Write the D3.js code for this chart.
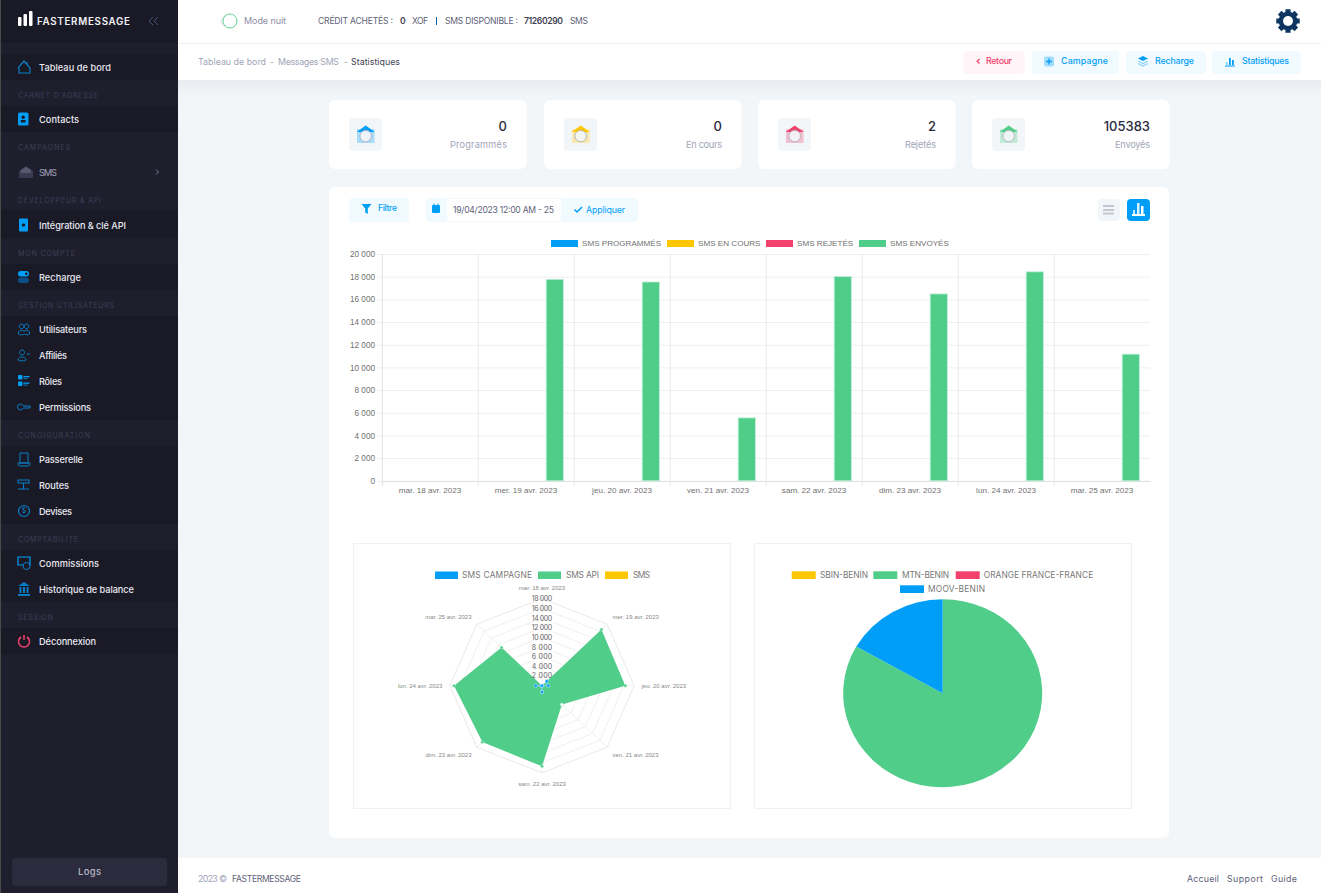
<!DOCTYPE html>
<html lang="fr"><head><meta charset="utf-8"><title>Statistiques</title>
<script src="https://cdn.jsdelivr.net/npm/d3@7/dist/d3.min.js"></script>
<style>html,body{margin:0;padding:0;background:#f3f6f9;overflow:hidden}svg{display:block}text{white-space:pre}</style>
</head><body><svg id="c" width="1321" height="893"></svg>
<script>
// ---- data ----
const days = ["mar. 18 avr. 2023","mer. 19 avr. 2023","jeu. 20 avr. 2023","ven. 21 avr. 2023","sam. 22 avr. 2023","dim. 23 avr. 2023","lun. 24 avr. 2023","mar. 25 avr. 2023"];
const barSeriesNames = ["SMS PROGRAMMÉS","SMS EN COURS","SMS REJETÉS","SMS ENVOYÉS"];
const smsProgrammes = [0,0,0,0,0,0,0,0];
const smsEnCours    = [0,0,0,0,0,0,0,0];
const smsRejetes    = [0,0,2,0,0,0,0,0];
const smsEnvoyes    = [0,17770,17533,5550,18020,16480,18430,11170];
const barTicks = [0,2000,4000,6000,8000,10000,12000,14000,16000,18000,20000];
const radarSeriesNames = ["SMS CAMPAGNE","SMS API","SMS"];
const radarCampagne = [0,1320,1230,0,1320,0,1230,0];
const radarApi      = [0,16450,16300,5500,16700,16500,17220,11200];
const radarSms      = [0,0,0,0,0,0,0,0];
const radarTicks = [2000,4000,6000,8000,10000,12000,14000,16000,18000];
const pieNames  = ["SBIN-BENIN","MTN-BENIN","ORANGE FRANCE-FRANCE","MOOV-BENIN"];
const pieValues = [0,87733,2,17648];
const statLabels = ["Programmés","En cours","Rejetés","Envoyés"];
const statValues = ["0","0","2","105383"];

// ---- helpers ----
const BLUE="#009ef7",GREEN="#50cd89",YELLOW="#ffc700",RED="#f1416c";
const UI="Inter,'Open Sans',sans-serif", CH="'Liberation Sans',Arial,sans-serif";
const svg=d3.select("#c");
const loc=d3.formatLocale({decimal:",",thousands:" ",grouping:[3],currency:["",""]});
const fmt=loc.format(",d");
function R(p,x,y,w,h,fill,rx,stroke){const r=p.append("rect").attr("x",x).attr("y",y).attr("width",w).attr("height",h).attr("fill",fill);if(rx)r.attr("rx",rx);if(stroke)r.attr("stroke",stroke);return r;}
function T(p,x,y,s,o={}){const t=p.append("text").attr("x",x).attr("y",y).attr("dy",".35em").text(s)
 .attr("font-family",o.f||UI).attr("font-size",o.s||9).attr("font-weight",o.b||400).attr("fill",o.c||"#5e6278").attr("text-anchor",o.a||"start");
 if(o.w)t.attr("textLength",o.w).attr("lengthAdjust","spacing");return t;}
function P(p,d,fill,stroke,sw){return p.append("path").attr("d",d).attr("fill",fill||"none").attr("stroke",stroke||"none").attr("stroke-width",sw||1);}
function G(p,x,y){return p.append("g").attr("transform",`translate(${x},${y})`);}

// ---- page background ----
R(svg,0,0,1321,893,"#f3f6f9");
const defs=svg.append("defs");
const gr=defs.append("linearGradient").attr("id","sh").attr("x1",0).attr("x2",0).attr("y1",0).attr("y2",1);
gr.append("stop").attr("offset",0).attr("stop-color","#e9ebf0");gr.append("stop").attr("offset",1).attr("stop-color","#f3f6f9");
R(svg,178,80,1143,16,"url(#sh)");
R(svg,178,0,1143,80,"#fff");
R(svg,178,43,1143,1,"#eff2f5");
R(svg,178,858,1143,35,"#fff");

// ---- sidebar ----
const side=svg.append("g");
R(side,0,0,178,893,"#1e1e2d");
[[0,43],[54,26],[106,26],[210,28],[264,26],[316,104],[446,78],[550,52],[628,26]].forEach(b=>R(side,0,b[0],178,b[1],"#1a1a27"));
R(side,0,0,1,893,"#4a4a4a");
[["CARNET D'ADRESSE",95.5,80],["CAMPAGNES",147.5,52],["DÉVELOPPEUR & API",200.5,83],["MON COMPTE",254,57],["GESTION UTILISATEURS",305.5,96],["CONGIGURATION",436,72],["COMPTABILITÉ",539.5,60],["SESSION",617.5,35]]
 .forEach(g=>T(side,18,g[1],g[0],{s:7,c:"#3f3f58",w:g[2]}));
[["Tableau de bord",67,72],["Contacts",119,40],["SMS",172,18,"#8e8ea3"],["Intégration & clé API",225,87],["Recharge",277,42],["Utilisateurs",329,48],["Affiliés",355,28],["Rôles",381,23],["Permissions",407,52],["Passerelle",459,44],["Routes",485,30],["Devises",511,33],["Commissions",563,60],["Historique de balance",589,95],["Déconnexion",641,57]]
 .forEach(i=>T(side,39,i[1]+.4,i[0],{s:9.2,b:500,c:i[3]||"#e9e9f0",w:i[2]}));
// logo
const lg=G(side,18,11);
R(lg,0,6,3.5,9,"#fff",1);R(lg,5.5,3,3.5,12,"#fff",1);R(lg,11,0,3.5,15,"#fff",1);
T(side,37,21.5,"FASTERMESSAGE",{s:9.8,b:600,c:"#f1f1f5",w:93});
P(side,"M153 17l-4 4 4 4M158 17l-4 4 4 4","none","#46527a",1);
P(side,"M156 169.5l2.5 2.5-2.5 2.5","none","#7a7a90",1);
// icons
const ic=(y,f)=>f(G(side,18,y));
ic(67,g=>P(g,"M0 1l6-7 6 7v5H1v-5M9-3l0-2","none","#0a7cc4",1.2));
ic(119,g=>{R(g,0,-6.5,10.5,13,BLUE,1.5);R(g,3.5,-3.5,3.4,3.4,"#1a1a27",1.7);R(g,2.7,1,5,2.5,"#1a1a27",1);});
ic(172,g=>{P(g,"M1 -1l7 -5 7 5v7H1z","#3a3a52");P(g,"M3 1h10v-3l-5-3-5 3z","#57576f");});
ic(225,g=>{R(g,1,-6.5,9,13,BLUE,1);R(g,3.8,-1.5,3.4,3,"#1a1a27",1.5);});
ic(277,g=>{R(g,0,-6,11,5.5,BLUE,2.7);R(g,0,.5,11,5.5,"#0b4f82",2.7);R(g,7,-4.5,2.5,2.5,"#1a1a27",1.2);});
ic(329,g=>{P(g,"M3.5-5a2.3 2.3 0 1 0 .1 0zM8.5-5a2.3 2.3 0 1 0 .1 0zM.5 5a3 3 0 0 1 5-3h1a3 3 0 0 1 5 3c0 1-5 1-5 0c0 1-6 1-6 0","none","#0a7cc4",1);});
ic(355,g=>{P(g,"M4-5a2.5 2.5 0 1 0 .1 0zM0 5c0-4 8-4 8 0 0 1-8 1-8 0M9-1h3","none","#0a7cc4",1);});
ic(381,g=>{R(g,0,-6,4.5,4.5,BLUE,1);R(g,0,.5,4.5,4.5,BLUE,1);R(g,5.5,-5,6,1.3,BLUE);R(g,5.5,-2.8,4,1,"#0a7cc4");R(g,5.5,1.5,6,1.3,BLUE);R(g,5.5,3.6,4,1,"#0a7cc4");});
ic(407,g=>P(g,"M2.5-3a3 3 0 1 0 .1 6 3 3 0 0 0 2.6-2H12v-2H5.2a3 3 0 0 0-2.7-2z","none","#0a7cc4",1));
ic(459,g=>P(g,"M2-6h8v10h-8zM0 4h12v1a2 2 0 0 1-2 2H2a2 2 0 0 1-2-2z","none","#0a7cc4",1));
ic(485,g=>P(g,"M0-5h11v3H0zM5.5-2v6M0 4h11M4 4h3","none","#0a7cc4",1.1));
ic(511,g=>{g.append("circle").attr("cx",6).attr("cy",0).attr("r",5.5).attr("fill","none").attr("stroke","#0a7cc4").attr("stroke-width",1.2);T(g,6,0,"$",{s:7,c:"#0a7cc4",a:"middle"});});
ic(563,g=>{P(g,"M0-6h12v8H0z","none",BLUE,1.2);g.append("circle").attr("cx",8.5).attr("cy",3).attr("r",3.5).attr("fill","#1a1a27").attr("stroke","#0a7cc4");});
ic(589,g=>{P(g,"M0-3l6-4 6 4zM0 5h12v2H0zM1.5-2h2v6h-2zM5-2h2v6H5zM8.5-2h2v6h-2z","#0a7cc4");});
ic(641,g=>P(g,"M3-4a5.5 5.5 0 1 0 6 0M6-6v5","none",RED,1.5));
R(side,12,858,155,28,"#2b2b3d",4);
T(side,89.5,872,"Logs",{s:9.5,b:500,c:"#b5b5c3",a:"middle",w:23});

// ---- top header ----
svg.append("ellipse").attr("cx",227).attr("cy",21).attr("rx",7).attr("ry",6.5).attr("fill","#eff2f5");
svg.append("circle").attr("cx",230).attr("cy",21).attr("r",7).attr("fill","#fff").attr("stroke",GREEN).attr("stroke-width",.9);
T(svg,244,21,"Mode nuit",{s:9,c:"#8d8da3",w:42});
[["CRÉDIT ACHETÉS :",318,75],["0",400,4.5,1],["XOF",412,16],["SMS DISPONIBLE :",445,73],["71260290",524,39,1],["SMS",570,18]]
 .forEach(t=>T(svg,t[1],21,t[0],{s:8.6,b:t[3]?600:400,w:t[2],c:t[3]?"#3f4254":"#5e6278"}));
R(svg,436,17,1,8,"#0a5ea8");
// gear
(function(){const n=8,ro=12,ri=9.4,pts=[];for(let i=0;i<n;i++){const a=i*2*Math.PI/n;const s=.22;
 [[a-s,ro],[a+s,ro],[a+Math.PI/n-.12,ri],[a+Math.PI/n+.12,ri]].forEach(q=>pts.push([1288+q[1]*Math.cos(q[0]),21+q[1]*Math.sin(q[0])]));}
 P(svg,"M"+pts.map(p=>p.join(",")).join("L")+"Z","#0c3560");
 svg.append("circle").attr("cx",1288).attr("cy",21).attr("r",5).attr("fill","#fff");})();
// breadcrumb
[["Tableau de bord",198,68,"#a1a5b7"],["-",270,4,"#a1a5b7"],["Messages SMS",278,61,"#a1a5b7"],["-",344,3,"#a1a5b7"],["Statistiques",351,49,"#3f4254"]]
 .forEach(t=>T(svg,t[1],62,t[0],{s:8.8,c:t[3],w:t[2]}));
// action buttons
R(svg,963,51,62,23,"#fff5f8",4);
P(svg,"M979.5 59l-2.3 2.3 2.3 2.3","none",RED,1.3);
T(svg,986,61,"Retour",{s:8.8,b:500,c:RED,w:26});
R(svg,1032,51,87,23,"#f1faff",4);
R(svg,1044,56.5,10,10,"#a3dcfc",2);P(svg,"M1049 58.5v6M1046 61.5h6","none",BLUE,1.3);
T(svg,1061,61,"Campagne",{s:8.8,b:500,c:BLUE,w:47});
R(svg,1126,51,80,23,"#f1faff",4);
P(svg,"M1143 56l5 2.5-5 2.5-5-2.5z",BLUE);P(svg,"M1138 61l5 2.5 5-2.5M1138 63.5l5 2.5 5-2.5","none","#8fd5fb",1.2);
T(svg,1155,61,"Recharge",{s:8.8,b:500,c:BLUE,w:39});
R(svg,1212,51,89,23,"#f1faff",4);
R(svg,1225,65.5,10,1,BLUE);R(svg,1226,62,1.8,3,"#8fd5fb");R(svg,1229,58,1.8,7,BLUE);R(svg,1232,60,1.8,5,BLUE);
T(svg,1242,61,"Statistiques",{s:8.8,b:500,c:BLUE,w:47});

// ---- stat cards ----
const cardColors=[BLUE,YELLOW,RED,GREEN];
const cardX=[329,544,758,972], cardLabelW=[57,36,31,35];
statLabels.forEach((l,i)=>{
 const x=cardX[i];
 R(svg,x,100,197.5,69,"#fff",6);
 const g=G(svg,x+20,118);
 R(g,0,0,33,33,"#f3f6f9",4);
 const c=cardColors[i];
 R(g,8,11,17.5,14,c,0).attr("opacity",.3);
 P(g,"M16.7 7.5l9 6.5h-18z",c);
 g.append("circle").attr("cx",16.7).attr("cy",18).attr("r",5.8).attr("fill","#f3f6f9").attr("fill-opacity",.9).attr("stroke","#a9a9b5").attr("stroke-width",.8);
 T(svg,x+178,126,statValues[i],{s:13,b:500,c:"#2a2c40",a:"end"});
 T(svg,x+178,145,l,{s:9.2,c:"#a1a5b7",a:"end",w:cardLabelW[i]});
});

// ---- main card ----
R(svg,329,187,840,651,"#fff",6);
R(svg,349,198,60,24,"#f1faff",4);
P(svg,"M361.5 204h10l-3.7 4.5v5.5l-2.6-1.5v-4z",BLUE);
T(svg,378,208,"Filtre",{s:8.6,b:500,c:BLUE,w:19});
R(svg,426,198,212,24,"#f1faff",4);R(svg,447,199,114,22,"#fff");
R(svg,432,205,8,8,BLUE,1);R(svg,433.5,203.5,1,2,BLUE);R(svg,437.5,203.5,1,2,BLUE);
T(svg,453,209.5,"19/04/2023 12:00 AM - 25",{s:8.6,c:"#5e6278",w:101});
P(svg,"M574.5 209.5l2.5 2.5 5-5","none",BLUE,1.5);
T(svg,586,209.5,"Appliquer",{s:8.8,c:BLUE,w:39});
R(svg,1098,199,22,22,"#f3f6f9",4);
[205,209,212.5].forEach(y=>R(svg,1103,y,11,2,"#c4c6d2"));
R(svg,1127,199,23,22,BLUE,4);
R(svg,1132,214,13,2,"#fff");R(svg,1133,210,2,4,"#bfe6fd");R(svg,1137,203,2.5,11,"#d9f1fe");R(svg,1141,206,2.5,8,"#fff");

// ---- bar chart ----
const barColors=[BLUE,YELLOW,RED,GREEN];
const x0=d3.scaleBand().domain(days).range([382,1150]);
const y=d3.scaleLinear().domain([0,20000]).range([480.8,254]);
const bc=svg.append("g");
const yAxis=d3.axisLeft(y).tickValues(barTicks).tickFormat(fmt).tickSize(-(1150-377)).tickPadding(2);
const gy=bc.append("g").attr("transform","translate(377,0)").call(yAxis);
gy.select(".domain").remove();
gy.selectAll("line").attr("stroke","#efefef");
gy.selectAll("text").attr("font-family",CH).attr("font-size",8.2).attr("fill","#707070");
const gxGrid=bc.append("g");
days.forEach((d,i)=>{const xx=x0(d)+.3;
 gxGrid.append("line").attr("x1",xx).attr("x2",xx).attr("y1",254).attr("y2",486).attr("stroke",i==0?"#e0e0e0":"#e9e9e9");});
const xAxis=d3.axisBottom(x0).tickSize(0).tickPadding(6.5);
const gx=bc.append("g").attr("transform","translate(0,481)").call(xAxis);
gx.select(".domain").attr("stroke","#e0e0e0");
gx.selectAll("text").attr("font-family",CH).attr("font-size",8.1).attr("fill","#707070");
const groupW=x0.bandwidth()*.8, slot=groupW/4, bw=slot*.9;
[smsProgrammes,smsEnCours,smsRejetes,smsEnvoyes].forEach((arr,si)=>{
 bc.append("g").selectAll("rect").data(arr.filter(d=>d>100).length?arr:[]).join("rect")
  .attr("x",(d,i)=>x0(days[i])+x0.bandwidth()*.1+slot*si+(slot-bw)/2)
  .attr("width",bw).attr("y",d=>y(d)).attr("height",d=>y(0)-y(d))
  .attr("fill",barColors[si]).attr("stroke",d=>d>0?"#c4f0d8":"none").attr("stroke-width",.8);
});
const barLegendX=[551,667,766,859];
barSeriesNames.forEach((n,i)=>{
 R(svg,barLegendX[i],240,27,7,barColors[i]);
 T(svg,barLegendX[i]+31,243,n,{f:CH,s:8.1,c:"#707070"});
});

// ---- radar (chart box is squeezed vertically, as in the reference) ----
R(svg,353.5,543.5,377,265,"#fff",0,"#eff2f5");
const cx=542,cy=685.7,rMax=92.3,ky=.945,radarMax=18060;
const rS=d3.scaleLinear().domain([0,radarMax]).range([0,rMax]);
const ang=i=>i*2*Math.PI/days.length;
const radial=d3.lineRadial().angle((d,i)=>ang(i)).radius(d=>rS(d)).curve(d3.curveLinearClosed);
const rg=G(svg,cx,cy);
const rs=rg.append("g").attr("transform",`scale(1,${ky})`);
days.forEach((d,i)=>{const a=ang(i);rs.append("line").attr("x2",rMax*Math.sin(a)).attr("y2",-rMax*Math.cos(a)).attr("stroke","#ececec").attr("stroke-width",.8);});
radarTicks.concat([radarMax]).forEach(t=>rs.append("path").attr("d",radial(days.map(()=>t))).attr("fill","none").attr("stroke","#ececec").attr("stroke-width",.8));
rs.append("path").attr("d",radial(radarApi)).attr("fill",GREEN);
rs.append("path").attr("d",radial(radarCampagne)).attr("fill","none").attr("stroke","#7cc8f8").attr("stroke-width",.8);
const pts=(arr,c)=>rg.append("g").selectAll("circle").data(arr).join("circle")
 .attr("cx",(d,i)=>rS(d)*Math.sin(ang(i))).attr("cy",(d,i)=>-rS(d)*ky*Math.cos(ang(i)))
 .attr("r",c==BLUE?1.7:1.5).attr("fill",(d,i)=>c==GREEN&&i==3?"#fff":c).attr("stroke",c==GREEN?"#bfeed5":"#e2f5ff").attr("stroke-width",.5);
pts(radarApi,GREEN);
pts(radarCampagne,BLUE);
radarTicks.forEach(t=>{
 T(rg,0,-rS(t)*ky,fmt(t),{s:7,c:"#666",a:"middle",w:20.5});
});
days.forEach((d,i)=>{
 const a=ang(i),s=Math.sin(a),c=Math.cos(a);
 T(rg,99.7*s,-98*c,d,{f:CH,s:6,c:"#888",a:Math.abs(s)<.01?"middle":(s>0?"start":"end")});
});
const radarColors=[BLUE,GREEN,YELLOW];
[[435,462],[538,566],[605,633]].forEach((p,i)=>{
 R(svg,p[0],571.5,23,7.5,radarColors[i]);
 T(svg,p[1],575,radarSeriesNames[i],{s:8.4,c:"#777",w:[70,33,17][i]});
});

// ---- pie (same vertical squeeze) ----
R(svg,754.5,543.5,377,265,"#fff",0,"#eff2f5");
const pieColors=[YELLOW,GREEN,RED,BLUE];
const pie=d3.pie().sort(null)(pieValues);
const arc=d3.arc().innerRadius(0).outerRadius(99.5);
svg.append("g").attr("transform",`translate(942.7,693.2) scale(1,${ky})`).selectAll("path").data(pie).join("path").attr("d",arc).attr("fill",(d,i)=>pieColors[i]);
[[791.7,820,575,48],[873.3,902,575,47],[955.7,983.7,575,109.5],[900,928,589,57]].forEach((p,i)=>{
 R(svg,p[0],p[2]-3.7,24,7.7,pieColors[i]);
 T(svg,p[1],p[2],pieNames[i],{s:8.4,c:"#777",w:p[3]});
});

// ---- footer ----
T(svg,198,879,"2023 ©",{s:8.8,c:"#a1a5b7",w:29});
T(svg,232,879,"FASTERMESSAGE",{s:8.6,c:"#5e6278",w:69});
[["Accueil",1187,32],["Support",1227,36],["Guide",1271,26]].forEach(t=>T(svg,t[1],879,t[0],{s:8.8,c:"#5e6278",w:t[2]}));
</script></body></html>
